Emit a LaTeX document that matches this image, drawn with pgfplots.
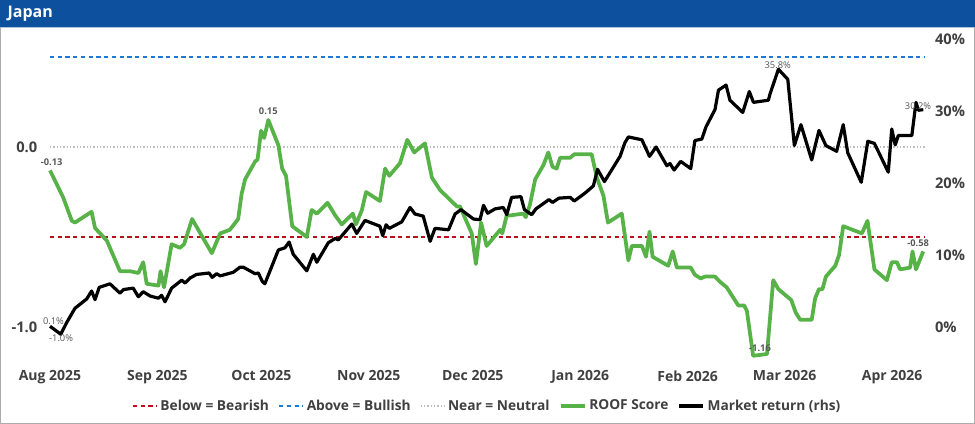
\documentclass[border=0pt]{standalone}
\usepackage{fontspec}
\setmainfont{Open Sans}
\usepackage{pgfplots}
\pgfplotsset{compat=1.18}

\definecolor{titleblue}{HTML}{0C509E}
\definecolor{roof}{HTML}{57B347}
\definecolor{bear}{HTML}{B5121B}
\definecolor{bull}{HTML}{1F78D1}
\definecolor{neut}{HTML}{BDBDBD}
\definecolor{txt}{HTML}{404040}
\definecolor{lbl}{HTML}{595959}

% x = days since 1 Aug 2025
\pgfplotstableread{
x y
0 -0.13
3.8 -0.28
6.3 -0.41
7.2 -0.42
12.0 -0.36
13.0 -0.45
16.4 -0.52
20.2 -0.69
23.1 -0.69
25.5 -0.70
26.9 -0.64
27.9 -0.76
31.3 -0.77
31.9 -0.69
32.9 -0.78
35.1 -0.54
37.5 -0.56
38.7 -0.54
41.0 -0.40
46.7 -0.59
49.1 -0.48
51.9 -0.46
54.3 -0.40
55.3 -0.26
56.3 -0.18
59.2 -0.08
59.9 -0.07
60.9 0.09
61.8 0.05
63.0 0.15
65.9 0.01
67.0 -0.12
68.1 -0.16
69.9 -0.44
74.1 -0.50
75.5 -0.35
77.0 -0.37
80.1 -0.31
82.3 -0.38
84.2 -0.43
87.4 -0.37
88.3 -0.43
90.0 -0.35
91.2 -0.25
95.2 -0.30
96.7 -0.12
97.9 -0.16
101.0 -0.09
103.1 0.04
105.1 -0.03
108.2 0.02
110.2 -0.17
112.6 -0.24
117.4 -0.33
118.3 -0.33
121.7 -0.48
122.9 -0.65
124.4 -0.42
126.0 -0.55
129.9 -0.46
130.5 -0.48
131.8 -0.38
132.8 -0.38
136.6 -0.37
137.3 -0.39
138.5 -0.32
140.0 -0.18
142.4 -0.10
143.8 -0.03
145.0 -0.11
146.2 -0.12
147.2 -0.06
150.1 -0.06
151.3 -0.04
156.3 -0.04
157.8 -0.17
159.7 -0.27
161.0 -0.42
165.0 -0.37
166.9 -0.63
167.9 -0.55
170.8 -0.55
172.0 -0.61
173.0 -0.47
173.9 -0.61
178.4 -0.66
179.7 -0.58
180.9 -0.67
184.9 -0.67
186.1 -0.71
187.8 -0.73
189.0 -0.72
191.9 -0.72
193.4 -0.75
195.3 -0.78
198.6 -0.88
200.3 -0.88
201.1 -0.91
202.9 -1.16
206.9 -1.15
208.7 -0.74
210.2 -0.79
213.9 -0.85
215.2 -0.92
216.5 -0.96
219.8 -0.96
220.8 -0.84
221.9 -0.79
222.9 -0.79
223.9 -0.72
226.6 -0.66
227.7 -0.60
228.9 -0.44
234.3 -0.48
235.9 -0.41
237.9 -0.68
241.5 -0.74
242.9 -0.64
244.4 -0.64
245.3 -0.68
248.2 -0.67
248.9 -0.58
249.9 -0.68
252.0 -0.58
}\roofdata

\pgfplotstableread{
x y
0 0.1
3.1 -1.0
4.8 0.6
7.2 2.6
10.6 3.9
12.0 5.0
13.0 3.8
14.2 5.5
17.3 6.0
20.2 4.7
21.2 5.2
24.0 5.4
25.5 4.2
26.9 4.9
28.9 4.3
31.3 4.0
32.2 4.4
33.2 3.5
35.1 5.4
38.0 6.5
39.0 6.1
40.4 6.8
42.3 7.3
45.9 7.5
46.8 6.9
48.1 7.4
49.1 7.1
52.9 7.6
54.8 8.3
55.8 8.3
59.2 7.4
60.1 7.5
61.3 6.3
62.0 6.0
65.9 10.7
67.8 11.0
69.0 11.8
70.2 10.1
74.1 7.8
76.0 10.1
77.0 9.0
80.3 11.7
82.3 12.3
83.2 12.1
87.1 14.3
88.5 13.0
90.9 14.8
95.2 14.0
96.0 12.7
97.0 14.2
97.9 13.7
101.5 14.6
103.9 16.6
105.3 15.7
107.7 15.4
109.7 11.9
111.1 13.7
115.0 13.5
116.9 15.7
118.6 16.3
122.2 15.0
124.1 14.9
125.1 16.9
126.3 15.8
128.4 16.4
130.8 16.6
131.8 15.6
133.2 18.0
135.9 18.1
136.9 16.3
139.0 15.6
140.2 16.4
144.0 17.7
145.0 17.3
146.9 17.9
150.1 18.0
151.3 17.5
154.4 18.6
156.8 19.6
158.0 21.9
160.0 20.2
164.5 23.7
165.9 25.6
166.9 26.4
170.8 26.0
173.0 23.7
174.9 25.0
178.0 22.4
178.9 22.7
180.1 21.8
182.0 23.0
184.9 22.0
186.1 25.9
188.1 26.1
189.3 27.8
191.9 30.2
192.9 32.9
195.1 33.6
196.2 31.5
199.9 29.8
201.8 32.7
203.0 31.2
207.3 31.5
207.8 32.4
210.2 35.8
212.9 34.4
214.8 25.2
216.7 28.1
219.8 23.2
221.9 27.3
223.9 25.2
227.0 24.4
228.9 28.1
230.2 24.2
234.1 20.1
236.0 25.8
237.9 25.5
241.9 21.5
242.9 27.5
243.9 25.3
244.8 26.6
248.7 26.6
249.9 31.2
250.6 30.1
252.0 30.2
}\mktdata

\begin{document}
\begin{tikzpicture}
\useasboundingbox (0,0) rectangle (731.25pt,-318pt);
\fill[white] (0,0) rectangle (731.25pt,-318pt);
\draw[gray!65, line width=1pt] (0.6pt,-0.6pt) rectangle (730.65pt,-317.4pt);
\fill[titleblue] (0,0) rectangle (731.25pt,-20.25pt);
\draw[titleblue!35, line width=0.6pt] (0.6pt,-20.6pt) -- (730.65pt,-20.6pt);
\node[anchor=west, text=white, inner sep=0pt, font=\bfseries\fontsize{12}{13}\selectfont] at (5.5pt,-10.6pt) {Japan};

\begin{axis}[
  at={(37.5pt,-272.25pt)}, anchor=south west,
  scale only axis, width=656.25pt, height=249.75pt,
  xmin=0, xmax=252.5, ymin=-1.2, ymax=0.65,
  axis line style={draw=none}, major tick length=0pt,
  clip=false,
  xtick={0,31,61,92,122,153,184,212,243},
  xticklabels={Aug 2025,Sep 2025,Oct 2025,Nov 2025,Dec 2025,Jan 2026,Feb 2026,Mar 2026,Apr 2026},
  xticklabel style={font=\bfseries\fontsize{10.5}{12}\selectfont, text=txt, yshift=-2pt},
  ytick={-1,0},
  yticklabel style={font=\bfseries\fontsize{11}{12}\selectfont, text=txt, xshift=-6pt},
  /pgf/number format/assume math mode=true,
  y tick label style={/pgf/number format/.cd, fixed, fixed zerofill, precision=1},
  legend columns=5,
  legend style={draw=none, fill=none, at={(0.5,-0.129)}, anchor=center,
    font=\bfseries\fontsize{10.3}{12}\selectfont, text=txt,
    /tikz/every even column/.append style={column sep=5pt}},
  legend image code/.code={\draw[#1] (0pt,0pt) -- (18pt,0pt);},
]
\addplot[bear, line width=1.4pt, dash pattern=on 3.2pt off 2.6pt] coordinates {(0,-0.5) (252.5,-0.5)};
\addlegendentry{Below = Bearish}
\addplot[bull, line width=1.4pt, dash pattern=on 3.2pt off 2.6pt] coordinates {(0,0.5) (252.5,0.5)};
\addlegendentry{Above = Bullish}
\addplot[neut, line width=1pt, dash pattern=on 1pt off 1.5pt] coordinates {(0,0) (252.5,0)};
\addlegendentry{Near = Neutral}
\addplot[roof, line width=2.8pt, line join=round] table[x=x, y=y] {\roofdata};
\addlegendentry{ROOF Score}
\addlegendimage{black, line width=2.4pt}
\addlegendentry{Market return (rhs)}
\node[anchor=south, text=lbl, font=\bfseries\fontsize{7}{8}\selectfont, inner sep=1pt] at (axis cs:0.5,-0.11) {-0.13};
\node[anchor=south, text=lbl, font=\bfseries\fontsize{7}{8}\selectfont, inner sep=1pt] at (axis cs:63,0.17) {0.15};
\node[anchor=south, text=lbl, font=\bfseries\fontsize{7}{8}\selectfont, inner sep=1pt] at (axis cs:204.9,-1.145) {-1.16};
\node[anchor=south, text=lbl, font=\bfseries\fontsize{7}{8}\selectfont, inner sep=1pt] at (axis cs:250.5,-0.565) {-0.58};
\end{axis}

\begin{axis}[
  at={(37.5pt,-272.25pt)}, anchor=south west,
  scale only axis, width=656.25pt, height=249.75pt,
  xmin=0, xmax=252.5, ymin=-5, ymax=41.25,
  axis y line*=right, hide x axis,
  axis line style={draw=none}, major tick length=0pt,
  clip=false,
  ytick={0,10,20,30,40},
  yticklabel={\pgfmathprintnumber{\tick}\%},
  yticklabel style={font=\bfseries\fontsize{11}{12}\selectfont, text=txt, xshift=4pt},
  /pgf/number format/assume math mode=true,
]
\addplot[black, line width=2.4pt, line join=round] table[x=x, y=y] {\mktdata};
\node[text=lbl, font=\fontsize{7}{8}\selectfont, inner sep=0pt] at (axis cs:1,0.75) {0.1\%};
\node[text=lbl, font=\fontsize{7}{8}\selectfont, inner sep=0pt] at (axis cs:3.2,-1.6) {-1.0\%};
\node[text=lbl, font=\fontsize{7}{8}\selectfont, inner sep=0pt] at (axis cs:210,36.4) {35.8\%};
\node[text=lbl, font=\fontsize{7}{8}\selectfont, inner sep=0pt] at (axis cs:250.5,30.7) {30.2\%};
\end{axis}
\end{tikzpicture}
\end{document}
